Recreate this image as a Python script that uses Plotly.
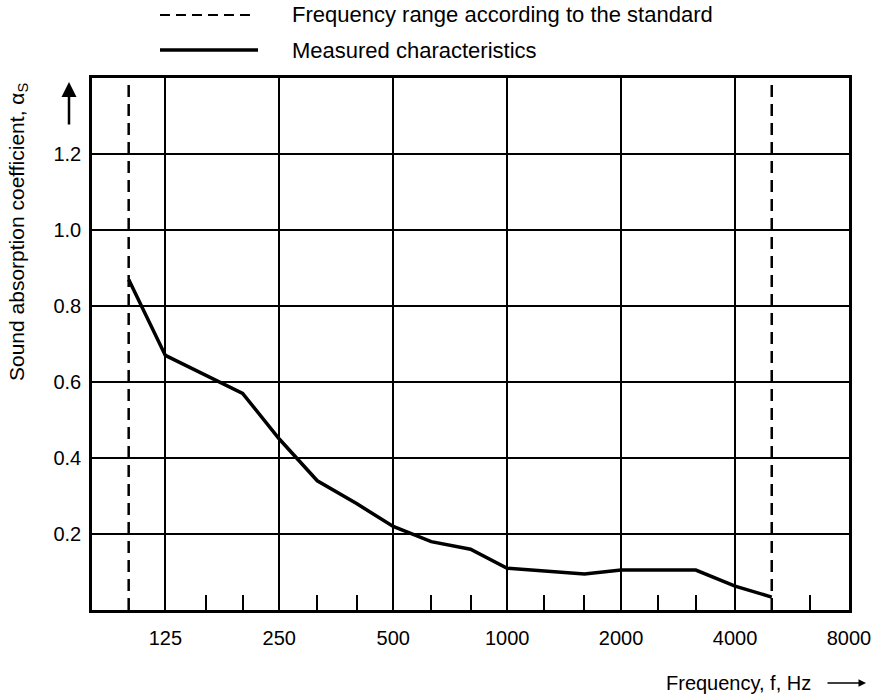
import math
import plotly.graph_objects as go

# ---- data ----
freq_hz = [100, 125, 200, 250, 315, 400, 500, 630, 800, 1000, 1600, 2000, 3150, 4000, 5000]
alpha_s = [0.87, 0.67, 0.57, 0.45, 0.34, 0.28, 0.22, 0.18, 0.16, 0.11, 0.095, 0.105, 0.105, 0.063, 0.034]
std_range_hz = [100, 5000]
major_ticks = [125, 250, 500, 1000, 2000, 4000, 8000]
major_labels = ["125", "250", "500", "1000", "2000", "4000", "8000"]
minor_ticks = [160, 200, 315, 400, 630, 800, 1250, 1600, 2500, 3150, 6300]
y_ticks = [0.2, 0.4, 0.6, 0.8, 1.0, 1.2]
y_labels = ["0.2", "0.4", "0.6", "0.8", "1.0", "1.2"]
y_range = [0, 1.4]
x_range_hz = [80, 8000]

FONT = "Liberation Sans, Arial, sans-serif"
W, H = 887, 699
ML, MR, MT, MB = 92, 38, 78, 89
PW, PH = W - ML - MR, H - MT - MB


def px(xp):
    return (xp - ML) / PW


def py(yp):
    return (H - MB - yp) / PH


fig = go.Figure()

# standard frequency range (dashed verticals)
sx, sy = [], []
for f in std_range_hz:
    sx += [f, f, None]
    sy += [y_range[0], y_range[1], None]
fig.add_trace(go.Scatter(x=sx, y=sy, mode="lines",
                         line=dict(color="black", width=2.5, dash="12px,7px"),
                         showlegend=False, hoverinfo="skip"))

# measured characteristic
fig.add_trace(go.Scatter(x=freq_hz, y=alpha_s, mode="lines",
                         line=dict(color="black", width=3.5),
                         showlegend=False))

# legend keys (drawn in paper space)
fig.add_shape(type="line", xref="paper", yref="paper",
              x0=px(160), x1=px(250), y0=py(15), y1=py(15),
              line=dict(color="black", width=2, dash="10px,6px"))
fig.add_shape(type="line", xref="paper", yref="paper",
              x0=px(160), x1=px(258), y0=py(50), y1=py(50),
              line=dict(color="black", width=3.5))
fig.add_annotation(xref="paper", yref="paper", x=px(290), y=py(15),
                   xanchor="left", yanchor="middle", showarrow=False,
                   text="Frequency range according to the standard",
                   font=dict(family=FONT, size=22, color="black"))
fig.add_annotation(xref="paper", yref="paper", x=px(290), y=py(50),
                   xanchor="left", yanchor="middle", showarrow=False,
                   text="Measured characteristics",
                   font=dict(family=FONT, size=22, color="black"))

# y-axis title
fig.add_annotation(xref="paper", yref="paper", x=px(18), y=py(232),
                   xanchor="center", yanchor="middle", showarrow=False,
                   textangle=-90,
                   text="Sound absorption coefficient, α<sub>S</sub>",
                   font=dict(family=FONT, size=21, color="black"))
# y-axis arrow
fig.add_annotation(xref="paper", yref="paper", x=px(69), y=py(82),
                   ax=0, ay=44, text="", showarrow=True,
                   arrowhead=2, arrowsize=1.2, arrowwidth=2.5, arrowcolor="black")

# x-axis title + arrow
fig.add_annotation(xref="paper", yref="paper", x=px(813), y=py(683),
                   xanchor="right", yanchor="middle", showarrow=False,
                   text="Frequency, f, Hz",
                   font=dict(family=FONT, size=20, color="black"))
fig.add_annotation(xref="paper", yref="paper", x=px(866), y=py(683),
                   ax=-40, ay=0, text="", showarrow=True,
                   arrowhead=2, arrowsize=1, arrowwidth=1.5, arrowcolor="black")

fig.update_layout(
    width=W, height=H,
    margin=dict(l=ML, r=MR, t=MT, b=MB, autoexpand=False),
    paper_bgcolor="white", plot_bgcolor="white",
    showlegend=False,
    font=dict(family=FONT, size=20, color="black"),
)

fig.update_xaxes(
    type="log",
    range=[math.log10(x_range_hz[0]), math.log10(x_range_hz[1])],
    tickmode="array", tickvals=major_ticks, ticktext=major_labels,
    ticks="", showgrid=True, gridcolor="black", gridwidth=2,
    showline=True, linecolor="black", linewidth=2.5, mirror=True,
    zeroline=False, ticklabelstandoff=8,
    tickfont=dict(family=FONT, size=20, color="black"),
    minor=dict(tickmode="array", tickvals=minor_ticks, ticks="inside",
               ticklen=15, tickwidth=2, tickcolor="black", showgrid=False),
)
fig.update_yaxes(
    range=y_range,
    tickmode="array", tickvals=y_ticks, ticktext=y_labels,
    ticks="", showgrid=True, gridcolor="black", gridwidth=2,
    showline=True, linecolor="black", linewidth=2.5, mirror=True,
    zeroline=False, ticklabelstandoff=4,
    tickfont=dict(family=FONT, size=20, color="black"),
)

fig.write_html(
    "out.html",
    config={"displayModeBar": False},
    post_script="document.body.style.margin='0';document.body.style.overflow='hidden';",
)
